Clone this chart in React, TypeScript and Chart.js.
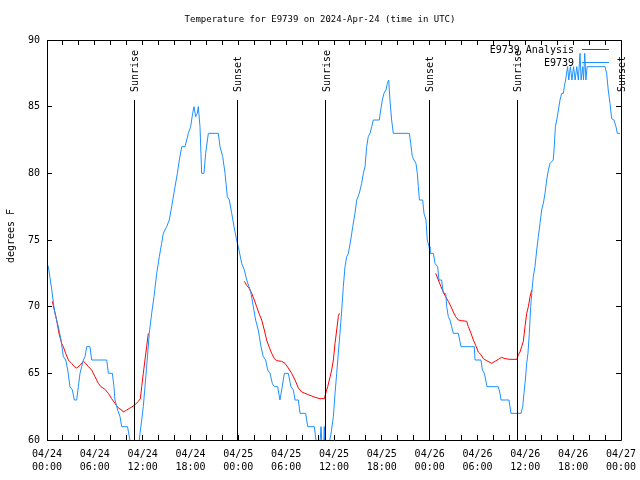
import React, { useEffect, useRef } from 'react';
import { Chart, registerables } from 'chart.js';

Chart.register(...registerables);

const TITLE = 'Temperature for E9739 on 2024-Apr-24 (time in UTC)';
const Y_TITLE = 'degrees F';
const START_MONTH = '04';
const START_DAY = 24;
const X_MIN = 0;
const X_MAX = 72;
const X_STEP = 2;
const X_LABEL_EVERY = 6;
const Y_MIN = 60;
const Y_MAX = 90;
const Y_STEP = 5;

const OBS_NAME = 'E9739';
const ANA_NAME = 'E9739 Analysis';

// Observed temperature (hours since 2024-04-24 00:00 UTC, degrees F)
const obsHours = [
  0.0, 0.17, 0.6, 0.92, 1.2, 1.42, 1.76, 2.05, 2.35, 2.6, 2.88, 3.18, 3.43, 3.72, 3.93, 4.14, 4.35, 4.56, 4.77, 4.98,
  5.39, 5.6, 7.49, 7.7, 8.2, 8.4, 8.53, 8.86, 9.16, 9.37, 10.1, 10.4, 10.8, 11.3, 11.67, 11.88, 12.08, 12.5, 12.83, 13.13,
  13.42, 13.76, 14.09, 14.38, 14.59, 15.01, 15.34, 15.64, 16.06, 16.35, 16.6, 16.9, 17.31, 17.52, 17.73, 18.02, 18.27, 18.44, 18.65, 18.85,
  18.98, 19.19, 19.4, 19.69, 19.9, 20.24, 21.49, 21.7, 22.04, 22.33, 22.62, 22.87, 23.17, 23.46, 23.79, 24.08, 24.42, 24.75, 25.05, 25.34,
  25.59, 25.88, 26.17, 26.5, 26.84, 27.13, 27.43, 27.68, 27.97, 28.26, 28.51, 28.93, 29.22, 29.44, 29.77, 30.27, 30.6, 30.9, 31.11, 31.53,
  31.74, 32.45, 32.7, 33.53, 33.74, 34.0, 34.25, 34.37, 34.5, 34.7, 34.78, 34.85, 35.1, 35.58, 35.92, 36.13, 36.34, 36.54, 36.75, 36.97,
  37.17, 37.38, 37.59, 37.8, 38.1, 38.35, 38.63, 38.85, 39.17, 39.47, 39.68, 39.89, 40.1, 40.3, 40.52, 40.73, 40.93, 41.68, 41.86, 42.06,
  42.27, 42.52, 42.69, 42.86, 43.02, 43.23, 43.44, 45.45, 45.62, 45.83, 46.03, 46.28, 46.45, 46.58, 46.71, 47.12, 47.29, 47.54, 47.7, 47.92,
  48.04, 48.46, 48.67, 49.0, 49.17, 49.5, 49.71, 50.01, 50.14, 50.34, 50.55, 50.76, 50.97, 51.59, 51.93, 53.6, 53.69, 54.44, 54.61, 54.86,
  55.03, 55.19, 56.61, 56.82, 56.95, 57.95, 58.2, 59.46, 59.67, 59.83, 60.0, 60.17, 60.33, 60.5, 60.67, 60.84, 61.0, 61.21, 61.43, 61.63,
  61.84, 62.05, 62.26, 62.47, 62.68, 62.89, 63.1, 63.5, 63.6, 63.77, 63.94, 64.15, 64.35, 64.56, 64.77, 64.89, 65.05, 65.3, 65.45, 65.65,
  65.85, 66.05, 66.25, 66.45, 66.65, 66.86, 67.0, 67.2, 67.3, 67.45, 67.6, 67.75, 70.0, 70.2, 70.4, 70.62, 70.83, 71.12, 71.37, 71.54,
  71.87,
];
const obsTemps = [
  73.2, 73, 71.25, 69.75, 69, 68.5, 67.5, 66.25, 66, 65.25, 64, 63.75, 63, 63, 64, 65, 65.5, 66, 66.25, 67,
  67, 66, 66, 65, 65, 64, 63, 62.25, 61.75, 61, 61, 60, 58.5, 58.5, 60.5, 61.5, 62.5, 65.5, 68, 69.5,
  70.75, 72.5, 73.75, 74.75, 75.5, 76, 76.5, 77.5, 79, 80, 81, 82, 82, 82.5, 83, 83.5, 84.5, 85, 84.25, 84.5,
  85, 83.5, 80, 80, 81.5, 83, 83, 82, 81.25, 80, 78.25, 78, 77, 76, 75, 74.25, 73.25, 72.75, 72, 71.5,
  71, 70, 69, 68.25, 67, 66.25, 66, 65.25, 65, 64.25, 64, 64, 63, 63.75, 65, 65, 64, 63.75, 63, 63,
  62, 62, 61, 61, 60, 59.5, 59.8, 61, 59.5, 59.5, 61, 59.5, 59, 60.3, 61.75, 63.5, 65, 66.5, 68, 69.75,
  71.5, 73, 73.75, 74, 75, 76, 77, 78, 78.5, 79.25, 80, 80.5, 82, 82.75, 83, 83.5, 84, 84, 84.75, 85.5,
  86, 86.25, 86.75, 87, 85.5, 84, 83, 83, 82.25, 81.25, 81, 80.75, 80, 79, 78, 78, 77, 76.5, 75, 74.5,
  74, 74, 73.25, 73, 72, 72, 71, 71, 70, 69.25, 69, 68.5, 68, 68, 67, 67, 66, 66, 65.25, 65,
  64.5, 64, 64, 63.5, 63, 63, 62, 62, 62.5, 63.5, 64.5, 65.75, 66.5, 68, 70, 71.25, 72.25, 73, 74.25, 75.25,
  76.25, 77.25, 77.75, 78.5, 79.5, 80.25, 80.75, 81, 81.75, 83.5, 84, 84.75, 85.5, 86, 86, 86.5, 87, 88, 87, 88,
  87, 88, 87, 88, 87, 89, 87, 88, 87, 89, 87, 88, 88, 87.5, 86.25, 85.25, 84.1, 84, 83.5, 83,
  83,
];

// Analysis temperature (null = gap between analysis segments)
const anaHours = [
  0.67, 0.92, 1.21, 1.5, 1.84, 2.05, 2.34, 2.68, 3.09, 3.43, 3.72, 4.14, 4.56, 4.77, 5.19, 5.6, 6.02, 6.44, 6.77, 7.27,
  7.7, 8.11, 8.53, 8.95, 9.37, 9.58, 10.0, 10.41, 10.96, 11.46, 11.71, 11.88, 12.08, 12.29, 12.5, 12.71,
  18.0,
  24.75, 25.05, 25.34, 25.68, 26.0, 26.3, 26.59, 26.93, 27.26, 27.55, 27.85, 28.18, 28.52, 28.81, 29.44, 29.85, 30.27, 30.69, 31.11, 31.53,
  31.95, 32.36, 32.78, 33.2, 33.62, 34.24, 34.79, 34.96, 35.21, 35.5, 35.71, 35.92, 36.13, 36.34, 36.54, 36.67,
  42.0,
  48.76, 49.09, 49.42, 49.71, 50.01, 50.34, 50.68, 50.97, 51.26, 51.59, 52.02, 52.65, 52.85, 53.19, 53.48, 53.77, 54.1, 54.44, 54.73, 55.15,
  55.78, 56.2, 56.61, 57.03, 57.45, 58.08, 58.92, 59.13, 59.33, 59.54, 59.75, 59.96, 60.17, 60.38, 60.59, 60.8,
];
const anaTemps = [
  70.4, 69.75, 69, 68, 67.25, 67, 66.5, 66, 65.75, 65.5, 65.4, 65.6, 65.9, 65.8, 65.5, 65.25, 64.75, 64.25, 64, 63.8,
  63.5, 63.1, 62.75, 62.4, 62.25, 62.1, 62.25, 62.4, 62.6, 62.9, 63.1, 64, 65, 66, 67, 68,
  null,
  71.9, 71.6, 71.4, 71, 70.5, 70, 69.5, 69, 68.25, 67.5, 67, 66.5, 66.1, 65.95, 65.9, 65.75, 65.4, 65, 64.5, 63.9,
  63.6, 63.5, 63.4, 63.3, 63.2, 63.1, 63.1, 63.5, 64, 64.7, 65.25, 66, 67.25, 68.25, 69.25, 69.5,
  null,
  72.5, 72, 71.5, 71.1, 70.75, 70.4, 70, 69.6, 69.25, 69, 68.95, 68.9, 68.5, 68, 67.5, 67.1, 66.6, 66.4, 66.1, 65.95,
  65.75, 65.9, 66.05, 66.2, 66.1, 66.05, 66.05, 66.4, 66.6, 67, 67.4, 68.5, 69.5, 70, 70.75, 71.25,
];

// Sunrise / sunset markers
const sunHours = [10.94, 23.88, 34.95, 47.96, 59.0, 72.0];
const sunLabels = ['Sunrise', 'Sunset', 'Sunrise', 'Sunset', 'Sunrise', 'Sunset'];

const FONT = '10px "DejaVu Sans Mono", "Liberation Mono", monospace';
const TITLE_FONT = '9px "DejaVu Sans Mono", "Liberation Mono", monospace';
const OBS_COLOR = '#1e90ff';
const ANA_COLOR = '#ff0000';

function pad2(n: number) {
  return n < 10 ? '0' + n : '' + n;
}

const overlayPlugin = {
  id: 'gnuplotOverlay',
  afterDraw(chart: any) {
    const { ctx, chartArea: a, scales } = chart;
    const x = scales.x;
    const y = scales.y;
    const c = (v: number) => Math.floor(v) + 0.5;
    ctx.save();
    ctx.strokeStyle = '#000';
    ctx.fillStyle = '#000';
    ctx.lineWidth = 1;
    ctx.font = FONT;

    // frame
    ctx.beginPath();
    ctx.rect(c(a.left), c(a.top), Math.floor(a.right) - Math.floor(a.left), Math.floor(a.bottom) - Math.floor(a.top));
    ctx.stroke();

    // inward ticks
    const TL = 5;
    ctx.beginPath();
    x.ticks.forEach((t: any) => {
      const px = c(x.getPixelForValue(t.value));
      ctx.moveTo(px, a.bottom);
      ctx.lineTo(px, a.bottom - TL);
      ctx.moveTo(px, a.top);
      ctx.lineTo(px, a.top + TL);
    });
    y.ticks.forEach((t: any) => {
      const py = c(y.getPixelForValue(t.value));
      ctx.moveTo(a.left, py);
      ctx.lineTo(a.left + TL, py);
      ctx.moveTo(a.right, py);
      ctx.lineTo(a.right - TL, py);
    });
    ctx.stroke();

    // sunrise / sunset lines (from graph 0.85 down to the x axis)
    const h = a.bottom - a.top;
    const lineTop = a.bottom - 0.85 * h;
    const labelBase = a.bottom - 0.87 * h;
    ctx.beginPath();
    sunHours.forEach((hr) => {
      const px = c(x.getPixelForValue(hr));
      ctx.moveTo(px, lineTop);
      ctx.lineTo(px, a.bottom);
    });
    ctx.stroke();
    sunHours.forEach((hr, i) => {
      const px = x.getPixelForValue(hr) + 1.5;
      ctx.save();
      ctx.translate(px, labelBase);
      ctx.rotate(-Math.PI / 2);
      ctx.textAlign = 'left';
      ctx.textBaseline = 'middle';
      ctx.fillText(sunLabels[i], 0, 0);
      ctx.restore();
    });

    // title
    ctx.save();
    ctx.font = TITLE_FONT;
    ctx.textAlign = 'center';
    ctx.textBaseline = 'middle';
    ctx.fillText(TITLE, 320, 19.5);
    ctx.restore();

    // y title
    ctx.save();
    ctx.translate(11, 236);
    ctx.rotate(-Math.PI / 2);
    ctx.textAlign = 'center';
    ctx.textBaseline = 'middle';
    ctx.fillText(Y_TITLE, 0, 0);
    ctx.restore();

    // key
    const keyTextRight = a.right - 47;
    const sampleL = a.right - 39;
    const sampleR = a.right - 12;
    const entries = [
      { name: ANA_NAME, color: ANA_COLOR, yy: a.top + 9.5 },
      { name: OBS_NAME, color: OBS_COLOR, yy: a.top + 22.5 },
    ];
    entries.forEach((e) => {
      ctx.fillStyle = '#000';
      ctx.textAlign = 'right';
      ctx.textBaseline = 'middle';
      ctx.fillText(e.name, keyTextRight, e.yy + 0.5);
      ctx.strokeStyle = e.color;
      ctx.beginPath();
      ctx.moveTo(sampleL, Math.floor(e.yy) + 0.5);
      ctx.lineTo(sampleR, Math.floor(e.yy) + 0.5);
      ctx.stroke();
    });
    ctx.restore();
  },
};

export default function App() {
  const ref = useRef<HTMLCanvasElement | null>(null);

  useEffect(() => {
    if (!ref.current) return;
    const obsData = obsHours.map((h, i) => ({ x: h, y: obsTemps[i] }));
    const anaData = anaHours.map((h, i) => ({ x: h, y: anaTemps[i] }));
    const chart = new Chart(ref.current, {
      type: 'line',
      data: {
        datasets: [
          {
            label: OBS_NAME,
            data: obsData,
            borderColor: OBS_COLOR,
            borderWidth: 1,
            pointRadius: 0,
            tension: 0,
            fill: false,
          },
          {
            label: ANA_NAME,
            data: anaData,
            borderColor: ANA_COLOR,
            borderWidth: 1,
            pointRadius: 0,
            tension: 0,
            fill: false,
            spanGaps: false,
          },
        ],
      },
      options: {
        animation: false,
        responsive: false,
        maintainAspectRatio: false,
        layout: { padding: { left: 0, right: 19, top: 40, bottom: 0 } },
        plugins: {
          legend: { display: false },
          tooltip: { enabled: false },
          title: { display: false },
        },
        scales: {
          x: {
            type: 'linear',
            min: X_MIN,
            max: X_MAX,
            afterFit: (s: any) => {
              s.height = 40;
              s.paddingLeft = 0;
              s.paddingRight = 0;
            },
            grid: { display: false, drawTicks: false },
            border: { display: false },
            ticks: {
              stepSize: X_STEP,
              autoSkip: false,
              maxRotation: 0,
              minRotation: 0,
              padding: 8,
              color: '#000',
              font: { family: '"DejaVu Sans Mono", "Liberation Mono", monospace', size: 10, lineHeight: 1.27 },
              callback: (v: any) => {
                const n = Number(v);
                if (n % X_LABEL_EVERY !== 0) return '';
                const day = START_DAY + Math.floor(n / 24);
                const hr = n % 24;
                return [START_MONTH + '/' + pad2(day), pad2(hr) + ':00'];
              },
            },
          },
          y: {
            type: 'linear',
            min: Y_MIN,
            max: Y_MAX,
            afterFit: (s: any) => {
              s.width = 47;
              s.paddingTop = 0;
              s.paddingBottom = 0;
            },
            grid: { display: false, drawTicks: false },
            border: { display: false },
            ticks: {
              stepSize: Y_STEP,
              padding: 7,
              color: '#000',
              font: { family: '"DejaVu Sans Mono", "Liberation Mono", monospace', size: 10 },
            },
          },
        },
      },
      plugins: [overlayPlugin],
    });
    return () => chart.destroy();
  }, []);

  return (
    <div style={{ position: 'fixed', left: 0, top: 0, width: 640, height: 480, background: '#fff' }}>
      <canvas ref={ref} width={640} height={480} style={{ display: 'block' }} />
    </div>
  );
}
